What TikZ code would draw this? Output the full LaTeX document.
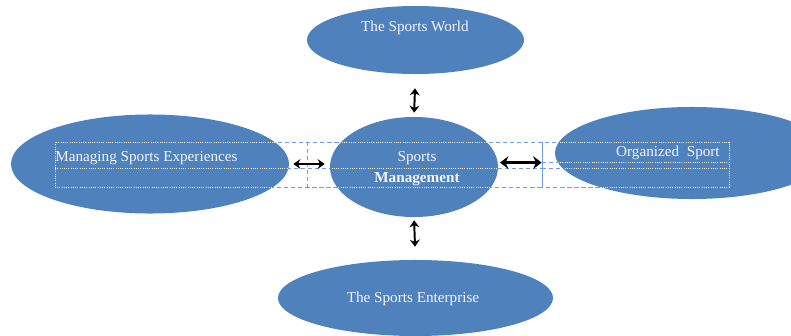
\documentclass[tikz,border=0pt]{standalone}
\usepackage{fontspec}
\setmainfont{Liberation Serif}
\usetikzlibrary{shapes.geometric,arrows.meta}

\definecolor{ovalblue}{HTML}{4F81BD}
\definecolor{frameblue}{HTML}{6E9EEA}
\definecolor{ovaltext}{HTML}{F4F4FA}

\tikzset{
  oval/.style={ellipse, fill=ovalblue, draw=none, inner sep=0pt},
  lbl/.style={text=ovaltext, inner sep=0pt, font=\fontsize{10.8}{12}\selectfont},
  dblarrow/.style={{Stealth[length=5pt,width=7pt]}-{Stealth[length=5pt,width=7pt]}, line width=1.4pt},
  bigarrow/.style={{Stealth[length=6pt,width=9pt]}-{Stealth[length=6pt,width=9pt]}, line width=2pt},
}

% dotted text box frames
\newcommand{\tboxframes}{%
  \draw (55,142) rectangle (542,187);
  \draw (55,168) -- (542,168);
  \draw (307,142) -- (307,187);
  \draw (542,142) rectangle (729,187);
  \draw (542,162) -- (729,162);
  \draw (542,168) -- (729,168);
}

\begin{document}
\begin{tikzpicture}[x=0.025cm,y=-0.025cm]
  \useasboundingbox (0,0) rectangle (791,336);

  % Frames outside the ovals
  \begin{scope}[frameblue, densely dashed, line width=0.6pt]
    \tboxframes
  \end{scope}

  % Ovals
  \node[oval, minimum width=5.425cm, minimum height=1.7cm] (world) at (415.5,40) {};
  \node[oval, minimum width=4.2cm, minimum height=2.5cm] (mid) at (414,167) {};
  \node[oval, minimum width=6.95cm, minimum height=2.475cm] (left) at (150,164) {};
  \node[oval, minimum width=6.85cm, minimum height=2.3cm] (rgt) at (692,153) {};
  \node[oval, minimum width=6.875cm, minimum height=1.9cm] (bot) at (415.5,298) {};

  % Frames inside the ovals
  \begin{scope}
    \clip (415.5,40) ellipse [x radius=2.7125cm, y radius=0.85cm]
          (414,167) ellipse [x radius=2.1cm, y radius=1.25cm]
          (150,164) ellipse [x radius=3.475cm, y radius=1.2375cm]
          (692,153) ellipse [x radius=3.425cm, y radius=1.15cm];
    \begin{scope}[white, densely dotted, line width=0.6pt]
      \tboxframes
    \end{scope}
  \end{scope}

  % Labels
  \node[lbl] (worldtxt) at (415,28) {The Sports World};
  \node[lbl, anchor=west] (lefttxt) at (55,158) {Managing Sports Experiences};
  \node[lbl] (midtxt) at (417,158) {Sports};
  \node[lbl, font=\fontsize{10.8}{12}\selectfont\bfseries] (midtxt2) at (417,179) {Management};
  \node[lbl, anchor=east] (rgttxt) at (720,153) {Organized\ \ Sport};
  \node[lbl] (bottxt) at (413,299) {The Sports Enterprise};

  % Arrows
  \draw[dblarrow, shorten <=0.35cm, shorten >=0.1cm] (world.south) -- (mid.north);
  \draw[dblarrow, shorten <=0.075cm, shorten >=0.325cm] (mid.south) -- (bot.north);
  \draw[dblarrow, line width=1.2pt, shorten <=0.1cm, shorten >=0.125cm] (left.east) -- (left.east -| mid.west);
  \draw[bigarrow, shorten <=0.05cm, shorten >=0.325cm] (mid.3) -- (mid.3 -| rgt.west);
\end{tikzpicture}
\end{document}
